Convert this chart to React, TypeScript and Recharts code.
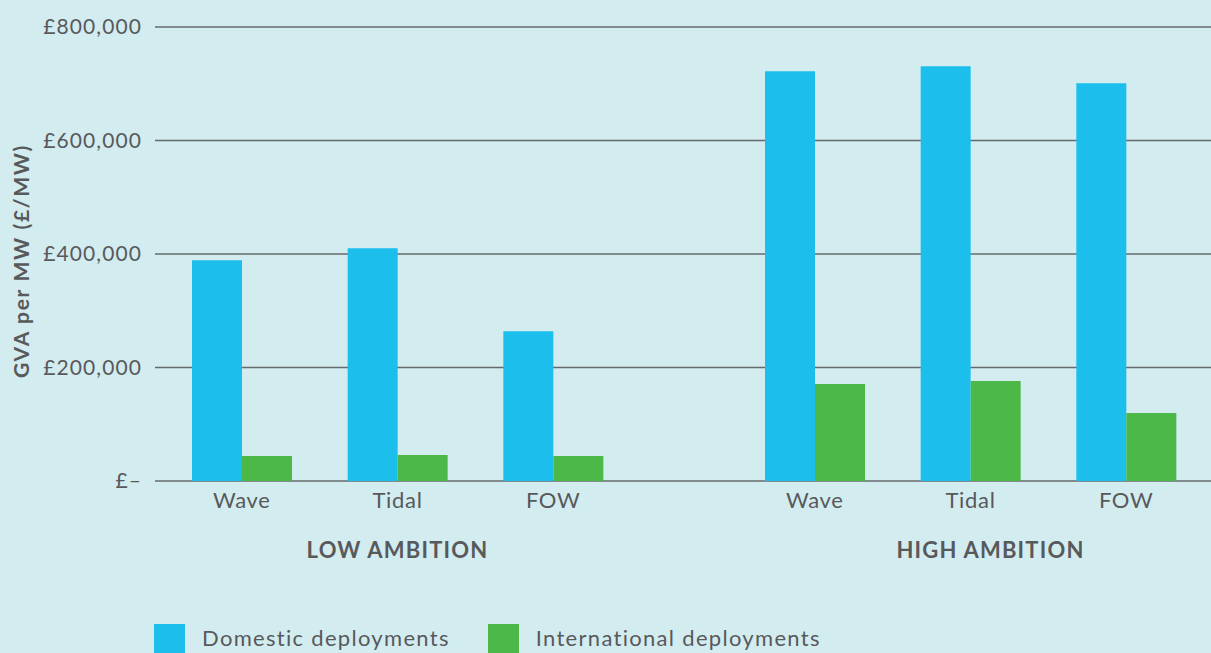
import React from 'react';
import { BarChart, Bar, XAxis, YAxis, CartesianGrid, Label } from 'recharts';

const categories = ['Wave', 'Tidal', 'FOW'];
const lowDomestic = [389000, 410000, 264000];
const lowInternational = [44000, 46000, 44000];
const highDomestic = [722000, 731000, 701000];
const highInternational = [171000, 176000, 120000];
const yTicks = [0, 200000, 400000, 600000, 800000];
const seriesNames = ['Domestic deployments', 'International deployments'];

const BLUE = '#1cbfeb';
const GREEN = '#4cb848';
const TEXT = '#58595b';
const GRID = '#666a6d';
const FONT = 'Lato, "Open Sans", sans-serif';

const lowData = categories.map((c, i) => ({ name: c, domestic: lowDomestic[i], international: lowInternational[i] }));
const highData = categories.map((c, i) => ({ name: c, domestic: highDomestic[i], international: highInternational[i] }));

const fmtMoney = (v: number) => (v === 0 ? '£–' : '£' + v.toLocaleString('en-GB'));

const YLabel = (props: any) => {
  const vb = props.viewBox || {};
  const x = vb.x + 20;
  const y = vb.y + vb.height / 2 + 7;
  return (
    <text x={x} y={y} transform={`rotate(-90 ${x} ${y})`} textAnchor="middle" dominantBaseline="central"
      fill={TEXT} fontFamily={FONT} fontWeight={700} fontSize={21} letterSpacing={1.7}>
      GVA per MW (£/MW)
    </text>
  );
};

const groupLabel = (text: string, padL: number, padR: number, shift: number) => (props: any) => {
  const vb = props.viewBox || {};
  const x = vb.x + padL + (vb.width - padL - padR) / 2 + shift;
  return (
    <text x={x} y={558} textAnchor="middle" fill={TEXT} fontFamily={FONT} fontWeight={700} fontSize={22} letterSpacing={1.2}>
      {text}
    </text>
  );
};

const tickStyle = { fill: TEXT, fontSize: 22, fontFamily: FONT, letterSpacing: 0.7 };

const XH = 80;
const margin = { top: 27, right: 0, bottom: 172 - XH, left: 0 };

export default function App() {
  return (
    <div style={{ position: 'absolute', left: 0, top: 0, width: 1211, height: 653, overflow: 'hidden', background: '#d3ecf0' }}>
      <div style={{ position: 'absolute', left: 0, top: 0 }}>
        <BarChart width={684} height={653} data={lowData} margin={margin} barGap={0} barSize={50}>
          <CartesianGrid vertical={false} stroke={GRID} strokeWidth={1.6} />
          <XAxis dataKey="name" height={XH} axisLine={false} tickLine={false} tickMargin={5}
            padding={{ left: 9, right: 53 }} tick={tickStyle}>
            <Label content={groupLabel('LOW AMBITION', 9, 53, 0)} />
          </XAxis>
          <YAxis width={155} domain={[0, 800000]} ticks={yTicks} tickFormatter={fmtMoney}
            axisLine={false} tickLine={false} tickMargin={7} tick={{ ...tickStyle, fontSize: 21, letterSpacing: 1.1 }}>
            <Label content={YLabel} />
          </YAxis>
          <Bar dataKey="domestic" name={seriesNames[0]} fill={BLUE} isAnimationActive={false} />
          <Bar dataKey="international" name={seriesNames[1]} fill={GREEN} isAnimationActive={false} />
        </BarChart>
      </div>
      <div style={{ position: 'absolute', left: 684, top: 0 }}>
        <BarChart width={527} height={653} data={highData} margin={margin} barGap={0} barSize={50}>
          <CartesianGrid vertical={false} stroke={GRID} strokeWidth={1.6} />
          <XAxis dataKey="name" height={XH} axisLine={false} tickLine={false} tickMargin={5}
            padding={{ left: 53, right: 7 }} tick={tickStyle}>
            <Label content={groupLabel('HIGH AMBITION', 53, 7, 20)} />
          </XAxis>
          <YAxis hide domain={[0, 800000]} ticks={yTicks} />
          <Bar dataKey="domestic" name={seriesNames[0]} fill={BLUE} isAnimationActive={false} />
          <Bar dataKey="international" name={seriesNames[1]} fill={GREEN} isAnimationActive={false} />
        </BarChart>
      </div>
      <div style={{ position: 'absolute', left: 154, top: 624, display: 'flex', alignItems: 'flex-start', fontFamily: FONT, fontSize: 22, color: TEXT, lineHeight: 1.2, letterSpacing: 1.3 }}>
        {seriesNames.map((n, i) => (
          <div key={n} style={{ display: 'flex', alignItems: 'flex-start', marginRight: 38 }}>
            <div style={{ width: 31, height: 31, background: i === 0 ? BLUE : GREEN, marginRight: 17 }} />
            <div style={{ marginTop: 1, whiteSpace: 'nowrap' }}>{n}</div>
          </div>
        ))}
      </div>
    </div>
  );
}
